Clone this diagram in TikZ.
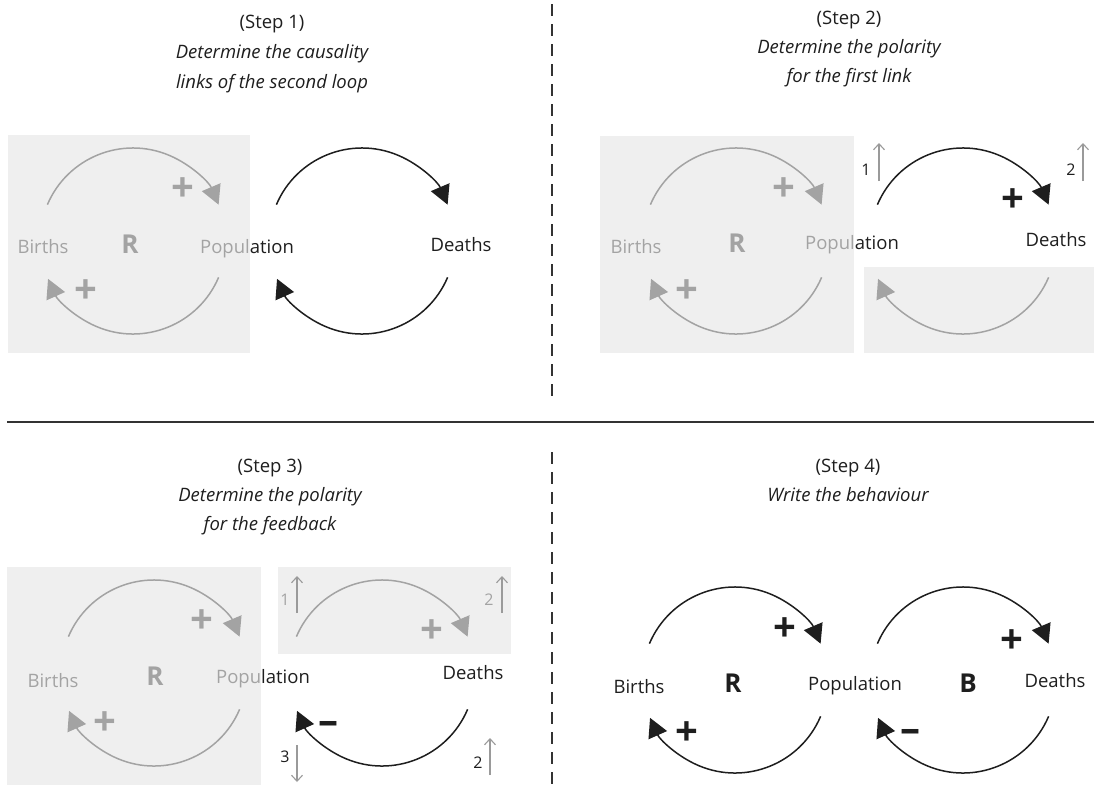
\documentclass[tikz,border=0pt]{standalone}
\usepackage{fontspec}
\setmainfont{Open Sans}
\usetikzlibrary{arrows.meta}

\definecolor{ink}{HTML}{1E1E1E}
\definecolor{trendgray}{HTML}{9A9A9A}
\definecolor{veil}{gray}{0.905}
\definecolor{rulecol}{HTML}{333333}

\tikzset{
  var/.style={font=\fontsize{18.5}{22}\selectfont, text=ink, inner sep=0pt, anchor=base},
  looptype/.style={font=\bfseries\fontsize{26}{30}\selectfont, text=ink, inner sep=0pt, anchor=base},
  polarity/.style={font=\bfseries\fontsize{40}{42}\selectfont, text=ink, inner sep=0pt},
  stepnum/.style={font=\fontsize{16}{18}\selectfont, text=ink, inner sep=0pt, anchor=base},
  heading/.style={font=\fontsize{18.5}{22}\selectfont, text=ink, inner sep=0pt, anchor=base},
  subheading/.style={heading, font=\itshape\fontsize{18.5}{22}\selectfont},
  link/.style={draw=ink, line width=1.5pt, -{Triangle[length=19pt,width=20pt]}},
  trend/.style={draw=trendgray, line width=1.1pt, -{Straight Barb[length=6pt,width=11pt]}},
  veilbox/.style={fill=veil, fill opacity=0.663, draw=none},
  divider/.style={draw=rulecol, line width=1.4pt},
  splitter/.style={draw=rulecol, line width=1.4pt, dash pattern=on 12pt off 8pt},
}

% a causal loop: two arcs of one circle around the named centre
\newcommand\cldloop[3]{%
  \coordinate (#1) at (#2,#3);
  \draw[link] ([shift={(157:93)}]#1) arc[start angle=157, end angle=23, radius=93];
  \draw[link] ([shift={(-23:93)}]#1) arc[start angle=-23, end angle=-156, radius=93];
}

\begin{document}
\begin{tikzpicture}[x=1pt, y=1pt]
\useasboundingbox (0,0) rectangle (1094,-787);

% ---------- frame ----------
\draw[divider] (7,-422) -- (1094,-422);
\draw[splitter] (552,-4) -- (552,-400);
\draw[splitter] (552,-452) -- (552,-787);

% ---------- Step 1 ----------
\node[heading] (t1a) at (272,-28) {(Step 1)};
\node[subheading] (t1b) at (272,-58) {Determine the causality};
\node[subheading] (t1c) at (272,-88) {links of the second loop};

\cldloop{s1r}{133}{-241}
\cldloop{s1b}{362}{-241}
\node[var] (s1births) at (43,-253) {Births};
\node[looptype] (s1R) at (130,-253) {R};
\node[var] (s1pop) at (247,-253) {Population};
\node[var] (s1deaths) at (461,-251) {Deaths};
\node[polarity] (s1p1) at (183,-190) {+};
\node[polarity] (s1p2) at (86,-292) {+};
\fill[veilbox] (8,-135) rectangle (250,-353);

% ---------- Step 2 ----------
\node[heading] (t2a) at (849,-24) {(Step 2)};
\node[subheading] (t2b) at (849,-53) {Determine the polarity};
\node[subheading] (t2c) at (849,-82) {for the first link};

\cldloop{s2r}{736}{-241}
\cldloop{s2b}{963}{-241}
\node[var] (s2births) at (636,-253) {Births};
\node[looptype] (s2R) at (737,-252) {R};
\node[var] (s2pop) at (852,-249) {Population};
\node[var] (s2deaths) at (1056,-246) {Deaths};
\node[polarity] (s2p1) at (784,-190) {+};
\node[polarity] (s2p2) at (687,-292) {+};
\node[polarity] (s2p3) at (1013,-201) {+};
\node[stepnum] (s2n1) at (866,-175) {1};
\node[stepnum] (s2n2) at (1071,-175) {2};
\fill[veilbox] (600,-136) rectangle (854,-353);
\fill[veilbox] (864,-267) rectangle (1094,-353);
\coordinate (s2u1a) at (879,-181); \coordinate (s2u1b) at (879,-143);
\coordinate (s2u2a) at (1083,-181); \coordinate (s2u2b) at (1083,-143);
\draw[trend] (s2u1a) -- (s2u1b);
\draw[trend] (s2u2a) -- (s2u2b);

% ---------- Step 3 ----------
\node[heading] (t3a) at (270,-472) {(Step 3)};
\node[subheading] (t3b) at (270,-501) {Determine the polarity};
\node[subheading] (t3c) at (270,-530) {for the feedback};

\cldloop{s3r}{154}{-673}
\cldloop{s3b}{382}{-673}
\node[var] (s3births) at (53,-687) {Births};
\node[looptype] (s3R) at (155,-685) {R};
\node[var] (s3pop) at (263,-683) {Population};
\node[var] (s3deaths) at (473,-679) {Deaths};
\node[polarity] (s3p1) at (202,-622) {+};
\node[polarity] (s3p2) at (105,-724) {+};
\node[polarity] (s3p3) at (432,-632) {+};
\node[polarity] (s3m1) at (328,-728) {–};
\node[stepnum] (s3n1) at (285,-605) {1};
\node[stepnum] (s3n2) at (489,-605) {2};
\node[stepnum] (s3n3) at (285,-762) {3};
\node[stepnum] (s3n4) at (478,-768) {2};
\fill[veilbox] (7,-567) rectangle (261,-785);
\fill[veilbox] (278,-567) rectangle (511,-654);
\coordinate (s3u1a) at (297,-613); \coordinate (s3u1b) at (297,-576);
\coordinate (s3u2a) at (502,-613); \coordinate (s3u2b) at (502,-576);
\coordinate (s3d3a) at (297,-745); \coordinate (s3d3b) at (297,-782);
\coordinate (s3u4a) at (490,-775); \coordinate (s3u4b) at (490,-738);
\draw[trend] (s3u1a) -- (s3u1b);
\draw[trend] (s3u2a) -- (s3u2b);
\draw[trend] (s3d3a) -- (s3d3b);
\draw[trend] (s3u4a) -- (s3u4b);

% ---------- Step 4 ----------
\node[heading] (t4a) at (848,-472) {(Step 4)};
\node[subheading] (t4b) at (848,-501) {Write the behaviour};

\cldloop{s4r}{735}{-680}
\cldloop{s4b}{963}{-680}
\node[var] (s4births) at (639,-693) {Births};
\node[looptype] (s4R) at (733,-692) {R};
\node[var] (s4pop) at (855,-690) {Population};
\node[looptype] (s4B) at (968,-692) {B};
\node[var] (s4deaths) at (1055,-687) {Deaths};
\node[polarity] (s4p1) at (785,-630) {+};
\node[polarity] (s4p2) at (687,-734) {+};
\node[polarity] (s4p3) at (1012,-642) {+};
\node[polarity] (s4m1) at (910,-736) {–};
\end{tikzpicture}
\end{document}
